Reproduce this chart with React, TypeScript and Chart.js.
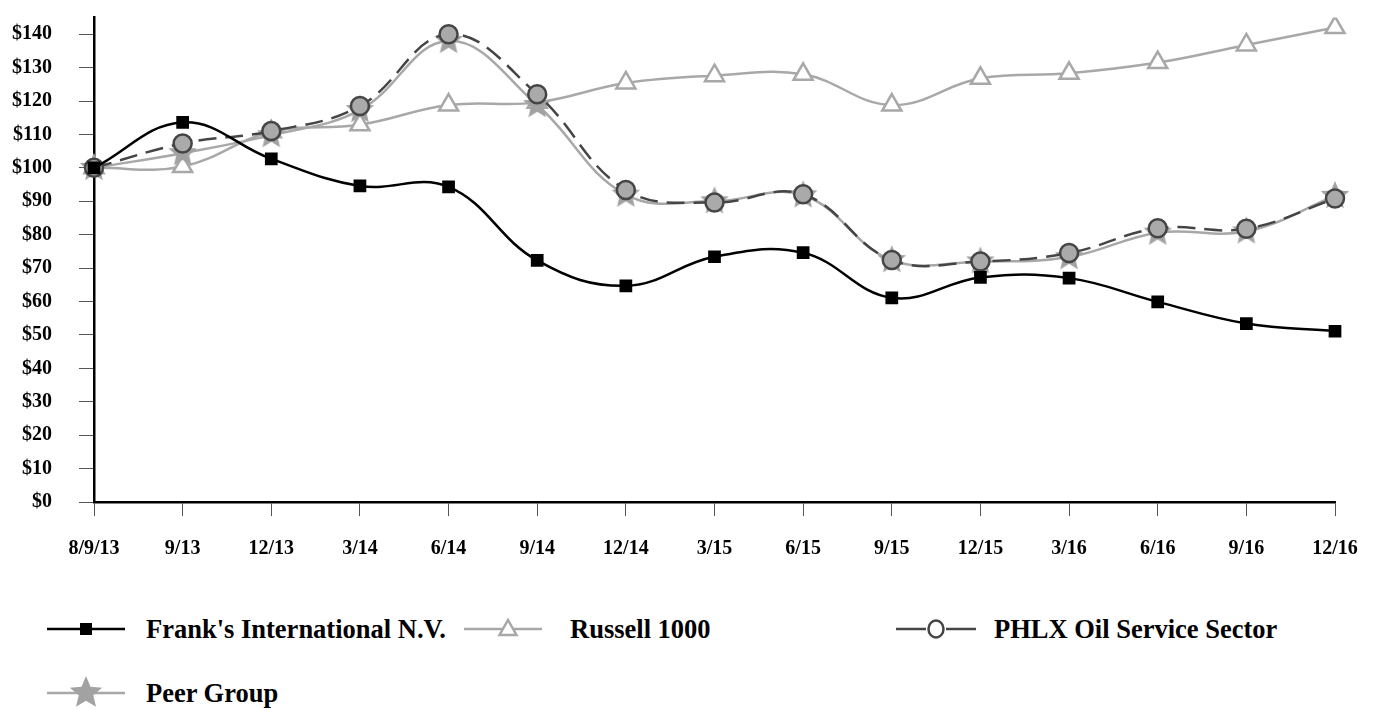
import React, { useEffect, useRef } from "react";
import { Chart, registerables } from "chart.js";

Chart.register(...registerables);

const categories = ["8/9/13", "9/13", "12/13", "3/14", "6/14", "9/14", "12/14", "3/15", "6/15", "9/15", "12/15", "3/16", "6/16", "9/16", "12/16"];
const franks = [100, 113.6, 102.7, 94.6, 94.3, 72.3, 64.7, 73.4, 74.6, 61.1, 67.2, 67.0, 59.9, 53.4, 51.1];
const russell = [100, 100.4, 110.8, 112.9, 118.8, 119.6, 125.4, 127.6, 128.0, 118.8, 126.8, 128.3, 131.5, 136.8, 142.0];
const phlx = [100, 107.3, 111.0, 118.5, 140.0, 122.0, 93.4, 89.6, 92.1, 72.4, 72.0, 74.5, 81.9, 81.8, 90.8];
const peer = [100, 104.4, 109.8, 117.3, 138.0, 118.8, 92.0, 90.0, 91.8, 72.4, 72.0, 73.3, 80.6, 81.0, 91.6];
const yTicks = [0, 10, 20, 30, 40, 50, 60, 70, 80, 90, 100, 110, 120, 130, 140];

const FONT = "'Liberation Serif', 'Times New Roman', serif";
const GRAY = "#a8a8a8";
const DARK = "#454545";

function makeStar(outer: number, fill: string): HTMLCanvasElement {
  const c = document.createElement("canvas");
  const s = Math.ceil(outer * 2 + 2);
  c.width = s;
  c.height = s;
  const ctx = c.getContext("2d")!;
  const cx = s / 2, cy = s / 2;
  const inner = outer * 0.45;
  ctx.beginPath();
  for (let i = 0; i < 10; i++) {
    const r = i % 2 === 0 ? outer : inner;
    const a = -Math.PI / 2 + (i * Math.PI) / 5;
    const x = cx + r * Math.cos(a);
    const y = cy + r * Math.sin(a);
    if (i === 0) ctx.moveTo(x, y);
    else ctx.lineTo(x, y);
  }
  ctx.closePath();
  ctx.fillStyle = fill;
  ctx.fill();
  return c;
}

function StarSvg({ cx, cy, r, fill }: { cx: number; cy: number; r: number; fill: string }) {
  const pts: string[] = [];
  for (let i = 0; i < 10; i++) {
    const rr = i % 2 === 0 ? r : r * 0.45;
    const a = -Math.PI / 2 + (i * Math.PI) / 5;
    pts.push(`${cx + rr * Math.cos(a)},${cy + rr * Math.sin(a)}`);
  }
  return <polygon points={pts.join(" ")} fill={fill} />;
}

const legendText: React.CSSProperties = {
  position: "absolute",
  fontFamily: FONT,
  fontWeight: "bold",
  fontSize: 26.5,
  color: "#000",
  lineHeight: "30px",
  whiteSpace: "nowrap",
};

export default function App() {
  const ref = useRef<HTMLCanvasElement>(null);

  useEffect(() => {
    const canvas = ref.current!;
    const star = makeStar(15, "#a2a2a2");
    const chart = new Chart(canvas, {
      type: "line",
      data: {
        labels: categories,
        datasets: [
          {
            label: "Frank's International N.V.",
            data: franks,
            borderColor: "#000",
            backgroundColor: "#000",
            borderWidth: 2.5,
            pointStyle: "rect",
            pointRadius: 9,
            pointBorderWidth: 0,
            pointBackgroundColor: "#000",
            tension: 0.4,
            order: 0,
          },
          {
            label: "Russell 1000",
            data: russell,
            borderColor: GRAY,
            borderWidth: 2.5,
            pointStyle: "triangle",
            pointRadius: 11,
            pointBorderWidth: 2.5,
            pointBorderColor: GRAY,
            pointBackgroundColor: "#fff",
            tension: 0.4,
            order: 3,
          },
          {
            label: "PHLX Oil Service Sector",
            data: phlx,
            borderColor: DARK,
            borderWidth: 2.5,
            borderDash: [18, 9],
            pointStyle: "circle",
            pointRadius: 9,
            pointBorderWidth: 2.5,
            pointBorderColor: DARK,
            pointBackgroundColor: "#aaaaaa",
            tension: 0.4,
            order: 1,
          },
          {
            label: "Peer Group",
            data: peer,
            borderColor: GRAY,
            borderWidth: 2.5,
            pointStyle: star as any,
            pointRadius: 15,
            tension: 0.4,
            order: 2,
          },
        ],
      },
      options: {
        animation: false,
        responsive: false,
        events: [],
        layout: { padding: { top: 13, right: 42, left: 0, bottom: 0 } },
        plugins: { legend: { display: false }, tooltip: { enabled: false } },
        scales: {
          x: {
            offset: false,
            grid: { drawOnChartArea: false, drawTicks: true, tickLength: 14, tickColor: "#555", lineWidth: 1 },
            border: { display: true, color: "#000", width: 2.5 },
            ticks: {
              font: { family: FONT, weight: "bold", size: 20 },
              color: "#000",
              padding: 21,
              maxRotation: 0,
              autoSkip: false,
            },
            afterFit: (s: any) => {
              s.height = 78;
              s.paddingLeft = 0;
              s.paddingRight = 0;
            },
          },
          y: {
            min: 0,
            max: 145,
            afterBuildTicks: (s: any) => {
              s.ticks = yTicks.map((v) => ({ value: v }));
            },
            grid: { drawOnChartArea: false, drawTicks: true, tickLength: 15, tickColor: "#555", lineWidth: 1 },
            border: { display: true, color: "#000", width: 2.5 },
            ticks: {
              font: { family: FONT, weight: "bold", size: 20 },
              color: "#000",
              padding: 27,
              callback: (v: any) => "$" + v,
            },
            afterFit: (s: any) => {
              s.width = 94;
              s.paddingTop = 0;
              s.paddingBottom = 0;
            },
          },
        },
      },
    });
    return () => chart.destroy();
  }, []);

  return (
    <div style={{ position: "absolute", left: 0, top: 0, width: 1377, height: 710, background: "#fff", overflow: "hidden" }}>
      <canvas ref={ref} width={1377} height={580} style={{ position: "absolute", left: 0, top: 0, width: 1377, height: 580 }} />
      {/* Legend row 1 */}
      <svg style={{ position: "absolute", left: 40, top: 609 }} width={100} height={40}>
        <line x1={7} y1={20} x2={85} y2={20} stroke="#000" strokeWidth={2.5} />
        <rect x={40} y={14} width={12} height={12} fill="#000" />
      </svg>
      <div style={{ ...legendText, left: 146, top: 614 }}>Frank's International N.V.</div>
      <svg style={{ position: "absolute", left: 460, top: 609 }} width={100} height={40}>
        <line x1={4} y1={20} x2={82} y2={20} stroke={GRAY} strokeWidth={2.5} />
        <polygon points="48,11 56.5,26 39.5,26" fill="#fff" stroke={GRAY} strokeWidth={2.5} />
      </svg>
      <div style={{ ...legendText, left: 570, top: 614 }}>Russell 1000</div>
      <svg style={{ position: "absolute", left: 890, top: 609 }} width={100} height={40}>
        <line x1={6} y1={20} x2={36} y2={20} stroke={DARK} strokeWidth={2.5} />
        <line x1={56} y1={20} x2={86} y2={20} stroke={DARK} strokeWidth={2.5} />
        <ellipse cx={46} cy={20} rx={7.5} ry={8.5} fill="#fff" stroke={DARK} strokeWidth={2.5} />
      </svg>
      <div style={{ ...legendText, left: 994, top: 614 }}>PHLX Oil Service Sector</div>
      {/* Legend row 2 */}
      <svg style={{ position: "absolute", left: 40, top: 673 }} width={100} height={40}>
        <line x1={7} y1={20} x2={85} y2={20} stroke={GRAY} strokeWidth={2.5} />
        <StarSvg cx={46} cy={20} r={17} fill="#a2a2a2" />
      </svg>
      <div style={{ ...legendText, left: 146, top: 678 }}>Peer Group</div>
    </div>
  );
}
